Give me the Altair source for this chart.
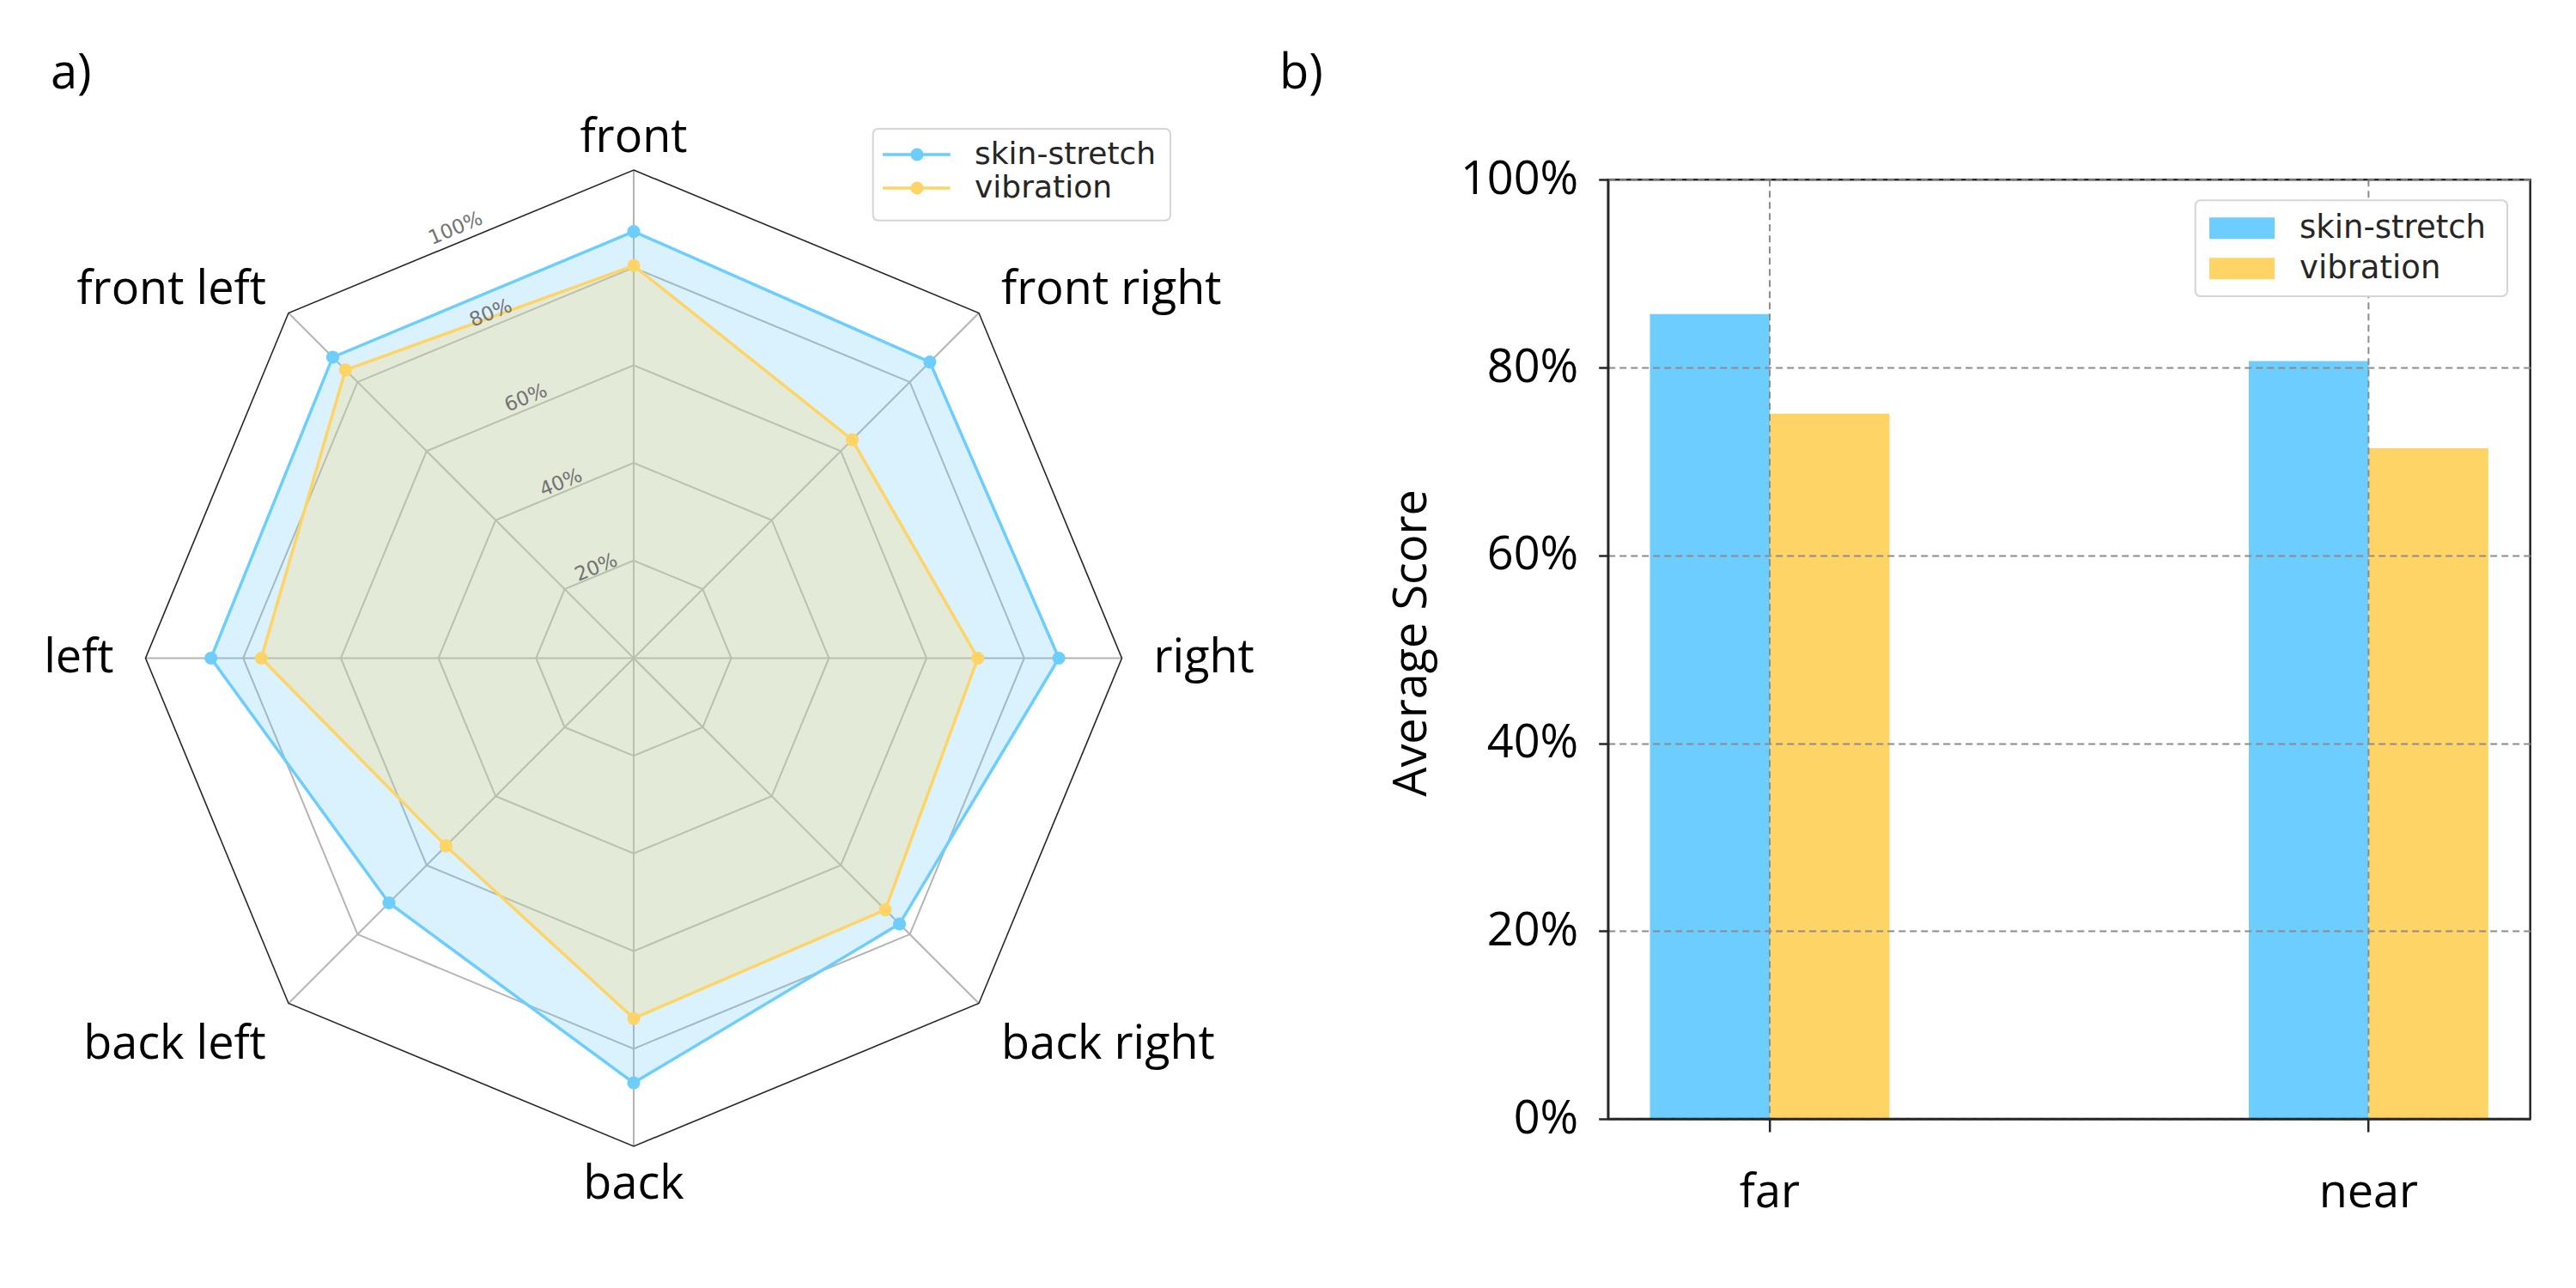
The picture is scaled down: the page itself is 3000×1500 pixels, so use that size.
import altair as alt
import pandas as pd

# ---------------- data ----------------
directions = ["front", "front right", "right", "back right",
              "back", "back left", "left", "front left"]
series = ["skin-stretch", "vibration"]
skin_radar = [87.4, 85.8, 87.1, 77.0, 87.0, 70.9, 86.6, 87.2]
vib_radar = [80.4, 63.3, 70.5, 72.9, 73.8, 54.4, 76.3, 83.5]
ring_levels = [20, 40, 60, 80, 100]
ring_labels = ["20%", "40%", "60%", "80%", "100%"]

conditions = ["far", "near"]
skin_bar = [85.7, 80.7]
vib_bar = [75.1, 71.4]
y_ticks = [0, 20, 40, 60, 80, 100]

colors = ["#6dcdfd", "#fed466"]
panel_labels = ["a)", "b)"]
y_title = "Average Score"

FONT = "Open Sans"
LEGFONT = "DejaVu Sans"

# ---------------- tables ----------------
radar_df = pd.DataFrame([
    {"direction": d, "idx": i, "series": s, "value": v}
    for s, vals in zip(series, [skin_radar, vib_radar])
    for i, (d, v) in enumerate(zip(directions, vals))
])
grid_df = pd.DataFrame([{"level": L, "idx": i}
                        for L in ring_levels for i in range(len(directions))])
dir_df = pd.DataFrame({"direction": directions, "idx": list(range(len(directions)))})
tick_df = pd.DataFrame({"level": ring_levels, "label": ring_labels})
bar_df = pd.DataFrame([
    {"condition": c, "series": s, "value": v}
    for s, vals in zip(series, [skin_bar, vib_bar])
    for c, v in zip(conditions, vals)
])
cond_df = pd.DataFrame({"condition": conditions})

# ---------------- radar panel ----------------
W1, H1 = 1452, 1480
CX, CY, R = 730.0, 758.5, 568.5
xdom = [-CX / R, (W1 - CX) / R]
ydom = [-(H1 - CY) / R, CY / R]
N = len(directions)


def XQ(f):
    return alt.X(f"{f}:Q", scale=alt.Scale(domain=xdom, nice=False, zero=False), axis=None)


def YQ(f):
    return alt.Y(f"{f}:Q", scale=alt.Scale(domain=ydom, nice=False, zero=False), axis=None)


def polar(chart, rexpr, angexpr=f"PI/2 - datum.idx*2*PI/{N}"):
    return chart.transform_calculate(ang=angexpr, rr=rexpr).transform_calculate(
        px="datum.rr*cos(datum.ang)", py="datum.rr*sin(datum.ang)")


layers = []
rings = polar(alt.Chart(grid_df), "datum.level/100")
layers.append(rings.transform_filter("datum.level < 100").mark_line(
    interpolate="linear-closed", color="#b4b4b4", strokeWidth=2).encode(
    x=XQ("px"), y=YQ("py"), detail="level:N", order="idx:Q"))
layers.append(polar(alt.Chart(grid_df), "1").transform_filter("datum.level == 100")
              .transform_calculate(z="0").mark_rule(color="#b4b4b4", strokeWidth=2).encode(
    x=XQ("z"), y=YQ("z"), x2="px:Q", y2="py:Q"))
layers.append(rings.transform_filter("datum.level == 100").mark_line(
    interpolate="linear-closed", color="#262626", strokeWidth=1.6).encode(
    x=XQ("px"), y=YQ("py"), detail="level:N", order="idx:Q"))

for s, col in zip(series, colors):
    base = polar(alt.Chart(radar_df), "datum.value/100").transform_filter(alt.datum.series == s)
    layers.append(base.mark_line(interpolate="linear-closed", fill=col, fillOpacity=0.25,
                                 strokeOpacity=0).encode(x=XQ("px"), y=YQ("py"), order="idx:Q"))
    layers.append(base.mark_line(interpolate="linear-closed", color=col, strokeWidth=3.5).encode(
        x=XQ("px"), y=YQ("py"), order="idx:Q"))
    layers.append(base.mark_circle(size=230, color=col, opacity=1).encode(x=XQ("px"), y=YQ("py")))

# ring tick labels
layers.append(polar(alt.Chart(tick_df), "(datum.level*0.94 + 2.5)/100", "PI/2 + PI/8").mark_text(
    angle=337.5, font=LEGFONT, fontSize=23, color="#737373", align="center", baseline="middle",
    dy=7).encode(x=XQ("px"), y=YQ("py"), text="label:N"))

# direction labels
lab = polar(alt.Chart(dir_df), "1.065").transform_calculate(
    c="cos(datum.ang)", s="sin(datum.ang)").transform_calculate(
    ly="datum.py - (datum.s < -0.1 ? (abs(datum.c) > 0.1 ? 0.04 : 0.014) : 0)")
for cond, al in [("datum.c > 0.1", "left"), ("datum.c < -0.1", "right"),
                 ("abs(datum.c) <= 0.1", "center")]:
    layers.append(lab.transform_filter(cond).mark_text(
        align=al, baseline="middle", font=FONT, fontSize=54, color="black").encode(
        x=XQ("px"), y=YQ("ly"), text="direction:N"))

# radar legend
L1 = dict(x0=1008.7, x1=1355, y0=142, y1=248.7, lx0=1020, lx1=1098.7, dot=1060, tx=1127, ry=172, dy=39)
layers.append(alt.Chart(pd.DataFrame({"k": [0]})).mark_rect(
    fill="white", stroke="#d5d5d5", strokeWidth=2, cornerRadius=6).encode(
    x=alt.value(L1["x0"]), x2=alt.value(L1["x1"]), y=alt.value(L1["y0"]), y2=alt.value(L1["y1"])))
for i, (s, col) in enumerate(zip(series, colors)):
    d = alt.Chart(pd.DataFrame({"series": [s]}))
    yy = L1["ry"] + i * L1["dy"]
    layers.append(d.mark_rule(color=col, strokeWidth=3.5).encode(
        x=alt.value(L1["lx0"]), x2=alt.value(L1["lx1"]), y=alt.value(yy)))
    layers.append(d.mark_circle(size=230, color=col, opacity=1).encode(
        x=alt.value(L1["dot"]), y=alt.value(yy)))
    layers.append(d.mark_text(align="left", baseline="middle", font=LEGFONT, fontSize=36,
                              color="#262626").encode(
        x=alt.value(L1["tx"]), y=alt.value(yy), text="series:N"))

layers.append(alt.Chart(pd.DataFrame({"t": [panel_labels[0]]})).mark_text(
    align="left", baseline="alphabetic", font=FONT, fontSize=56, color="black").encode(
    x=alt.value(51), y=alt.value(95), text="t:N"))

radar = alt.layer(*layers).properties(width=W1, height=H1)

# ---------------- bar panel ----------------
W2, H2 = 1074, 1295
BAR_TOP = 201.3
SPACING = 412.7
DARK = "#262626"
GRID = "#8c8c8c"

yscale = alt.Scale(domain=[0, 100], range=[H2, BAR_TOP], nice=False, zero=True)
xscale = alt.Scale(domain=conditions, paddingInner=0.6, paddingOuter=0.07)

bars = alt.Chart(bar_df).mark_bar(opacity=1).encode(
    x=alt.X("condition:N", scale=xscale, sort=conditions, axis=alt.Axis(
        title=None, labelAngle=0, labelFont=FONT, labelFontSize=54, labelColor="black",
        labelPadding=44, tickSize=15, tickColor=DARK, tickWidth=2.5, domainColor=DARK,
        domainWidth=2.5, grid=False, zindex=1, bandPosition=0.5)),
    xOffset=alt.XOffset("series:N", scale=alt.Scale(domain=series), sort=series),
    y=alt.Y("value:Q", scale=yscale, axis=alt.Axis(
        values=y_ticks, labelExpr="datum.value + '%'", labelFont=FONT, labelFontSize=54,
        labelColor="black", labelPadding=24, tickSize=11, tickColor=DARK, tickWidth=2.5,
        domainColor=DARK, domainWidth=2.5, grid=True, gridColor=GRID,
        gridDash=[8, 5], gridWidth=2, zindex=1,
        title=y_title, titleFont=FONT, titleFontSize=54, titleFontWeight="normal",
        titleColor="black", titleAngle=270, titleAlign="center", titleBaseline="alphabetic",
        titleX=-212.7, titleY=740.5)),
    color=alt.Color("series:N", scale=alt.Scale(domain=series, range=colors), legend=None),
)

blayers = [bars]
# vertical dashed grid at category centres
blayers.append(alt.Chart(cond_df).mark_rule(color=GRID, strokeWidth=2, strokeDash=[8, 5]).encode(
    x=alt.X("condition:N", scale=xscale, sort=conditions),
    y=alt.value(BAR_TOP), y2=alt.value(H2)))
blayers.append(alt.Chart(pd.DataFrame({"k": [0]})).mark_rect(
    fillOpacity=0, stroke=DARK, strokeWidth=2.5).encode(
    x=alt.value(0), x2=alt.value(W2), y=alt.value(BAR_TOP), y2=alt.value(H2)))

L2 = dict(x0=684, x1=1047.3, y0=225.3, y1=337, sx0=700.3, sx1=776.3, sh=25, tx=805.3, ry=257.7, dy=47)
blayers.append(alt.Chart(pd.DataFrame({"k": [0]})).mark_rect(
    fill="white", stroke="#d5d5d5", strokeWidth=2, cornerRadius=6).encode(
    x=alt.value(L2["x0"]), x2=alt.value(L2["x1"]), y=alt.value(L2["y0"]), y2=alt.value(L2["y1"])))
for i, (s, col) in enumerate(zip(series, colors)):
    d = alt.Chart(pd.DataFrame({"series": [s]}))
    yy = L2["ry"] + i * L2["dy"]
    blayers.append(d.mark_rect(fill=col).encode(
        x=alt.value(L2["sx0"]), x2=alt.value(L2["sx1"]),
        y=alt.value(yy - L2["sh"] / 2), y2=alt.value(yy + L2["sh"] / 2)))
    blayers.append(d.mark_text(align="left", baseline="middle", font=LEGFONT, fontSize=37,
                               color="#262626").encode(
        x=alt.value(L2["tx"]), y=alt.value(yy), text="series:N"))

blayers.append(alt.Chart(pd.DataFrame({"t": [panel_labels[1]]})).mark_text(
    align="left", baseline="alphabetic", font=FONT, fontSize=56, color="black").encode(
    x=alt.value(1490 - 1872.7), y=alt.value(95), text="t:N"))

bar = alt.layer(*blayers).properties(width=W2, height=H2)

chart = alt.hconcat(radar, bar, spacing=SPACING, bounds="flush").properties(
    padding=0, background="white").configure_view(stroke=None)

chart.save("out.html", embed_options={"renderer": "svg", "actions": False})
